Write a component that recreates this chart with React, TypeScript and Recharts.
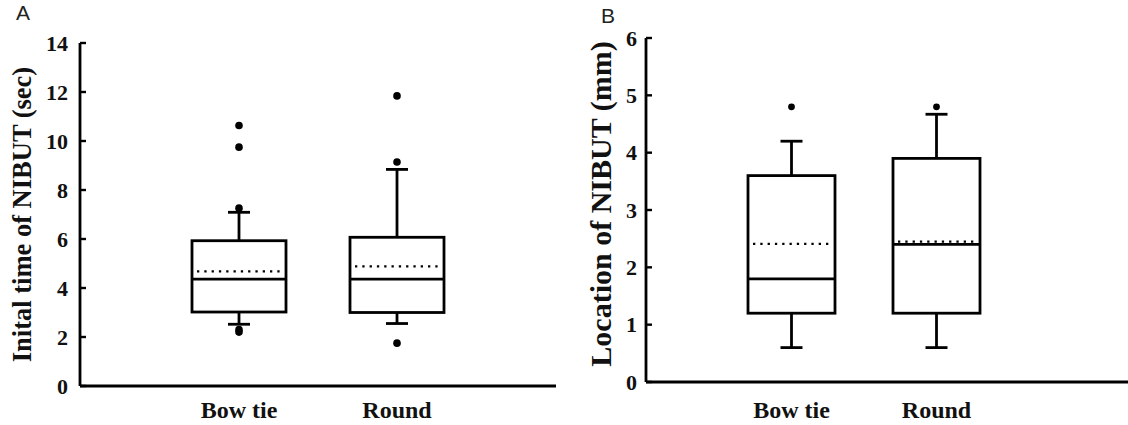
import React from 'react';
import { ComposedChart, Bar, Scatter, XAxis, YAxis } from 'recharts';

const categories = ['Bow tie', 'Round'];

// Panel A: initial time of NIBUT (sec)
const timeMin = [2.52, 2.55];
const timeQ1 = [3.02, 3.0];
const timeMedian = [4.36, 4.36];
const timeQ3 = [5.93, 6.07];
const timeMax = [7.09, 8.84];
const timeMean = [4.68, 4.88];
const timeOutliers = [
  [10.63, 9.75, 7.26, 2.3, 2.2],
  [11.84, 9.14, 1.75],
];
const timeTicks = [0, 2, 4, 6, 8, 10, 12, 14];

// Panel B: location of NIBUT (mm)
const locMin = [0.6, 0.6];
const locQ1 = [1.2, 1.2];
const locMedian = [1.8, 2.4];
const locQ3 = [3.6, 3.9];
const locMax = [4.2, 4.67];
const locMean = [2.41, 2.45];
const locOutliers = [[4.8], [4.8]];
const locTicks = [0, 1, 2, 3, 4, 5, 6];

const SERIF = '"Liberation Serif", "Times New Roman", serif';
const INK = '#000';

function buildRows(min: number[], q1: number[], med: number[], q3: number[], max: number[], mean: number[]) {
  return categories.map((name, i) => ({
    name,
    box: [q1[i], q3[i]],
    min: min[i],
    median: med[i],
    max: max[i],
    mean: mean[i],
  }));
}

function buildOutliers(list: number[][]) {
  const out: { name: string; value: number }[] = [];
  list.forEach((vals, i) => vals.forEach((value) => out.push({ name: categories[i], value })));
  return out;
}

// box + whiskers, positioned from the bar geometry the y scale gives us
const BoxShape = (props: any) => {
  const { x, y, width, height, payload } = props;
  if (!payload) return null;
  const [lo, hi] = payload.box;
  const unit = height / (hi - lo);
  const toY = (v: number) => y + height - (v - lo) * unit;
  const cx = x + width / 2;
  const cap = 11;
  return (
    <g stroke={INK} strokeWidth={2.8} fill="none">
      <line x1={cx} x2={cx} y1={y} y2={toY(payload.max)} />
      <line x1={cx - cap} x2={cx + cap} y1={toY(payload.max)} y2={toY(payload.max)} />
      <line x1={cx} x2={cx} y1={y + height} y2={toY(payload.min)} />
      <line x1={cx - cap} x2={cx + cap} y1={toY(payload.min)} y2={toY(payload.min)} />
      <rect x={x} y={y} width={width} height={height} fill="#fff" />
      <line x1={x} x2={x + width} y1={toY(payload.median)} y2={toY(payload.median)} />
      <line
        x1={x + 5}
        x2={x + width - 4}
        y1={toY(payload.mean)}
        y2={toY(payload.mean)}
        strokeWidth={2.3}
        strokeDasharray="2.3 5"
      />
    </g>
  );
};

const makeYTick = (gap: number) => (props: any) => {
  const { x, y, payload } = props;
  return (
    <g>
      <line x1={x} x2={x + 6} y1={y} y2={y} stroke={INK} strokeWidth={2.4} />
      <text
        x={x - gap}
        y={y}
        dy="0.35em"
        textAnchor="end"
        fontFamily={SERIF}
        fontWeight="bold"
        fontSize={22}
        fill="#111"
      >
        {payload.value}
      </text>
    </g>
  );
};

const makeXTick = (dy: number) => (props: any) => {
  const { x, y, payload } = props;
  return (
    <text x={x} y={y + dy} textAnchor="middle" fontFamily={SERIF} fontWeight="bold" fontSize={24} fill="#111">
      {payload.value}
    </text>
  );
};

const Dot = (r: number) => (props: any) => <circle cx={props.cx} cy={props.cy} r={r} fill={INK} />;

interface PanelProps {
  width: number;
  rows: any[];
  outliers: { name: string; value: number }[];
  ticks: number[];
  top: number;
  bottom: number;
  right: number;
  axisWidth: number;
  padLeft: number;
  padRight: number;
  barSize: number;
  tickGap: number;
  labelDy: number;
  dotR: number;
  title: string;
  titleX: number;
  titleDy: number;
  titleSize: number;
}

function Panel(p: PanelProps) {
  const plotBottom = 425 - p.bottom;
  return (
    <ComposedChart
      width={p.width}
      height={425}
      data={p.rows}
      margin={{ top: p.top, right: p.right, bottom: 0, left: 0 }}
    >
      <XAxis
        dataKey="name"
        allowDuplicatedCategory={false}
        height={p.bottom}
        padding={{ left: p.padLeft, right: p.padRight }}
        axisLine={{ stroke: INK, strokeWidth: 2.8 }}
        tickLine={false}
        tickSize={0}
        tickMargin={0}
        tick={makeXTick(p.labelDy)}
      />
      <YAxis
        width={p.axisWidth}
        domain={[p.ticks[0], p.ticks[p.ticks.length - 1]]}
        ticks={p.ticks}
        interval={0}
        axisLine={{ stroke: INK, strokeWidth: 2.8 }}
        tickLine={false}
        tickSize={0}
        tickMargin={0}
        tick={makeYTick(p.tickGap)}
        label={{
          content: (lp: any) => {
            const vb = lp.viewBox || {};
            const cy = (vb.y ?? p.top) + (vb.height ?? plotBottom - p.top) / 2 + p.titleDy;
            return (
              <text
                x={p.titleX}
                y={cy}
                transform={`rotate(-90 ${p.titleX} ${cy})`}
                textAnchor="middle"
                dominantBaseline="central"
                fontFamily={SERIF}
                fontWeight="bold"
                fontSize={p.titleSize}
                fill="#111"
              >
                {p.title}
              </text>
            );
          },
        }}
      />
      <Bar dataKey="box" barSize={p.barSize} shape={BoxShape} isAnimationActive={false} />
      <Scatter data={p.outliers} dataKey="value" shape={Dot(p.dotR)} isAnimationActive={false} />
    </ComposedChart>
  );
}

export default function App() {
  const timeRows = buildRows(timeMin, timeQ1, timeMedian, timeQ3, timeMax, timeMean);
  const locRows = buildRows(locMin, locQ1, locMedian, locQ3, locMax, locMean);

  return (
    <div style={{ position: 'absolute', left: 0, top: 0, width: 1128, height: 425, background: '#fff', overflow: 'hidden' }}>
      <div style={{ position: 'absolute', left: 0, top: 0 }}>
        <Panel
          width={560}
          rows={timeRows}
          outliers={buildOutliers(timeOutliers)}
          ticks={timeTicks}
          top={43}
          bottom={39}
          right={4}
          axisWidth={80}
          padLeft={80}
          padRight={80}
          barSize={94}
          tickGap={12}
          labelDy={32}
          dotR={3.8}
          title="Inital time of NIBUT (sec)"
          titleX={22}
          titleDy={0}
          titleSize={26.5}
        />
      </div>
      <div style={{ position: 'absolute', left: 560, top: 0 }}>
        <Panel
          width={568}
          rows={locRows}
          outliers={buildOutliers(locOutliers)}
          ticks={locTicks}
          top={38}
          bottom={43}
          right={0}
          axisWidth={86}
          padLeft={73}
          padRight={119}
          barSize={87}
          tickGap={9}
          labelDy={36}
          dotR={3.4}
          title="Location of NIBUT (mm)"
          titleX={40}
          titleDy={-6}
          titleSize={30}
        />
      </div>
      <div style={{ position: 'absolute', left: 16, top: 1, fontFamily: '"Liberation Sans", Arial, sans-serif', fontSize: 21, color: '#222' }}>
        A
      </div>
      <div style={{ position: 'absolute', left: 601, top: 4, fontFamily: '"Liberation Sans", Arial, sans-serif', fontSize: 21, color: '#222' }}>
        B
      </div>
    </div>
  );
}
